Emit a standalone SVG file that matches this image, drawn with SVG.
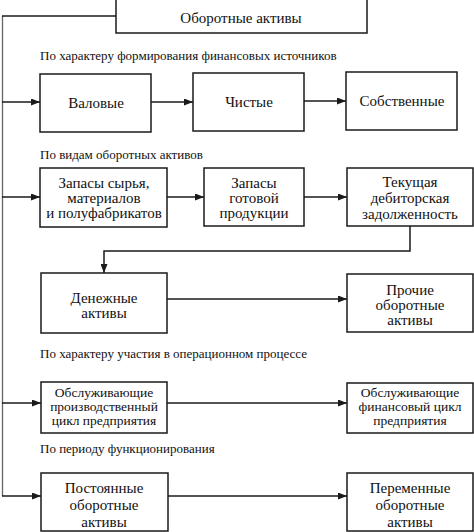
<svg xmlns="http://www.w3.org/2000/svg" width="474" height="532" viewBox="0 0 474 532">
<defs>
<marker id="ah" markerWidth="9" markerHeight="7" refX="9" refY="3.5" orient="auto" markerUnits="userSpaceOnUse">
<path d="M0,0 L9,3.5 L0,7 Z" fill="#1a1a1a"/>
</marker>
<style>
.box{fill:#fff;stroke:#1a1a1a;stroke-width:1.5}
.t{font-family:"Liberation Serif","Times New Roman",serif;font-size:15px;fill:#111;text-anchor:middle}
.s{font-size:13.5px}
.lbl{font-family:"Liberation Serif","Times New Roman",serif;font-size:13px;fill:#111}
.c{fill:none;stroke:#1a1a1a;stroke-width:1.5}
.a{marker-end:url(#ah)}
</style>
</defs>
<rect width="474" height="532" fill="#fff"/>

<g id="connectors">
<line x1="2.5" y1="16" x2="2.5" y2="496" stroke="#666" stroke-width="1.3"/>
<line class="c" x1="2" y1="16" x2="116" y2="16"/>
<line class="c a" x1="2" y1="102" x2="40" y2="102"/>
<line class="c a" x1="151" y1="102" x2="193" y2="102"/>
<line class="c a" x1="304" y1="101" x2="346" y2="101"/>
<line class="c a" x1="2" y1="197" x2="40" y2="197"/>
<line class="c a" x1="167" y1="197" x2="204" y2="197"/>
<line class="c a" x1="304" y1="197" x2="347" y2="197"/>
<polyline class="c a" points="410,226 410,251 104,251 104,273"/>
<line class="c a" x1="167" y1="299" x2="347" y2="299"/>
<line class="c a" x1="2" y1="403" x2="41" y2="403"/>
<line class="c a" x1="167" y1="403" x2="347" y2="403"/>
<line class="c a" x1="2" y1="496" x2="41" y2="496"/>
<line class="c a" x1="168" y1="496" x2="347" y2="496"/>
</g>

<g id="root">
<rect class="box" x="116" y="-2" width="251" height="35"/>
<text class="t" x="241" y="23">Оборотные активы</text>
</g>

<text class="lbl" x="40" y="60">По характеру формирования финансовых источников</text>
<text class="lbl" x="40" y="159">По видам оборотных активов</text>
<text class="lbl" x="40" y="358">По характеру участия в операционном процессе</text>
<text class="lbl" x="40" y="453">По периоду функционирования</text>

<g id="valovye">
<rect class="box" x="40" y="74" width="111" height="58"/>
<text class="t" x="96" y="108">Валовые</text>
</g>
<g id="chistye">
<rect class="box" x="193" y="73" width="111" height="58"/>
<text class="t" x="249" y="107">Чистые</text>
</g>
<g id="sobstvennye">
<rect class="box" x="346" y="72" width="111" height="58"/>
<text class="t" x="402" y="106">Собственные</text>
</g>

<g id="zapasy-syrya">
<rect class="box" x="40" y="168" width="127" height="59"/>
<text class="t" x="104" y="188">Запасы сырья,</text>
<text class="t" x="104" y="203">материалов</text>
<text class="t" x="104" y="218">и полуфабрикатов</text>
</g>
<g id="zapasy-gotovoy">
<rect class="box" x="204" y="168" width="100" height="58"/>
<text class="t" x="254" y="188">Запасы</text>
<text class="t" x="254" y="203">готовой</text>
<text class="t" x="254" y="218">продукции</text>
</g>
<g id="debitorskaya">
<rect class="box" x="347" y="168" width="126" height="58"/>
<text class="t" x="410" y="187">Текущая</text>
<text class="t" x="410" y="203">дебиторская</text>
<text class="t" x="410" y="219">задолженность</text>
</g>

<g id="denezhnye">
<rect class="box" x="41" y="273" width="126" height="60"/>
<text class="t" x="104" y="303">Денежные</text>
<text class="t" x="104" y="318">активы</text>
</g>
<g id="prochie">
<rect class="box" x="347" y="274" width="126" height="58"/>
<text class="t" x="410" y="295">Прочие</text>
<text class="t" x="410" y="310">оборотные</text>
<text class="t" x="410" y="325">активы</text>
</g>

<g id="obsl-proizv">
<rect class="box" x="41" y="382" width="126" height="51"/>
<text class="t s" x="104" y="397">Обслуживающие</text>
<text class="t s" x="104" y="411">производственный</text>
<text class="t s" x="104" y="425">цикл предприятия</text>
</g>
<g id="obsl-fin">
<rect class="box" x="347" y="383" width="126" height="50"/>
<text class="t s" x="410" y="397">Обслуживающие</text>
<text class="t s" x="410" y="411">финансовый цикл</text>
<text class="t s" x="410" y="425">предприятия</text>
</g>

<g id="postoyannye">
<rect class="box" x="41" y="473" width="127" height="58"/>
<text class="t" x="104" y="493">Постоянные</text>
<text class="t" x="104" y="510">оборотные</text>
<text class="t" x="104" y="527">активы</text>
</g>
<g id="peremennye">
<rect class="box" x="347" y="473" width="126" height="58"/>
<text class="t" x="410" y="493">Переменные</text>
<text class="t" x="410" y="510">оборотные</text>
<text class="t" x="410" y="527">активы</text>
</g>
</svg>
